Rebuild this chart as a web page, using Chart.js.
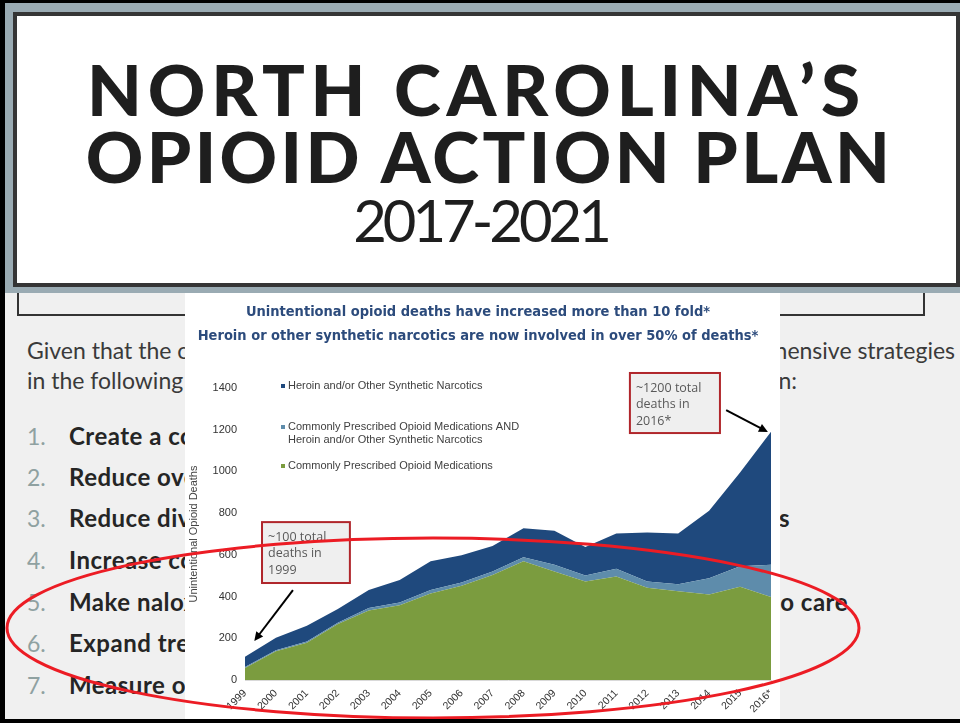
<!DOCTYPE html>
<html>
<head>
<meta charset="utf-8">
<script src="https://cdn.jsdelivr.net/npm/chart.js@4.4.1/dist/chart.umd.min.js"></script>
<style>
html, body { margin: 0; padding: 0; }
body { width: 960px; height: 723px; position: relative; overflow: hidden; background: #f0f0f0; font-family: Lato, "Open Sans", sans-serif; }
#frame { position: absolute; left: 0; top: 0; width: 960px; height: 723px; box-sizing: border-box; border-left: 5px solid #000; border-top: 3px solid #000; border-bottom: 4px solid #000; z-index: 9; pointer-events: none; }
#band { position: absolute; left: 5px; top: 3px; width: 955px; height: 290px; background: #9aabb3; z-index: 2; }
#head { position: absolute; left: 13px; top: 12px; width: 947px; height: 275px; box-sizing: border-box; border: 4px solid #353535; background: #fff; z-index: 3; }
#head div { position: absolute; width: 100%; text-align: center; color: #1e1e1e; white-space: nowrap; }
.big { font-weight: 900; font-size: 71px; line-height: 71px; }
#yrs { font-size: 58px; line-height: 58px; font-weight: 400; letter-spacing: -4px; }
#box2 { position: absolute; left: 17px; top: 280px; width: 908px; height: 36px; box-sizing: border-box; border: 2px solid #333; border-top: none; z-index: 1; }
.txt { position: absolute; font-size: 23px; line-height: 24px; color: #3a3a3a; white-space: nowrap; z-index: 1; }
.num { position: absolute; left: 27px; font-size: 23px; line-height: 24px; color: #8fa1a1; z-index: 1; }
.item { position: absolute; left: 69px; font-size: 24px; line-height: 24px; font-weight: 700; color: #252525; white-space: nowrap; z-index: 1; letter-spacing: 0.5px; }
.tail { text-align: right; }
#chartBox { position: absolute; left: 185px; top: 293px; width: 595px; height: 426px; background: #fff; z-index: 5; }
#ring { position: absolute; left: 0; top: 0; z-index: 8; pointer-events: none; }
</style>
</head>
<body>
<div id="frame"></div>
<div id="band"></div>
<div id="head">
  <div class="big" style="left:-10px; top:37px; letter-spacing:5.8px">NORTH CAROLINA’S</div>
  <div class="big" style="left:3px; top:104px; letter-spacing:3.4px">OPIOID ACTION PLAN</div>
  <div id="yrs" style="left:-6px; top:175px">2017-2021</div>
</div>
<div id="box2"></div>

<div class="txt" style="left:27px; top:338px">Given that the crisis is complex and evolving,</div>
<div class="txt" style="right:5px; top:338px">we need comprehensive strategies</div>
<div class="txt" style="left:27px; top:368px">in the following focus areas to</div>
<div class="txt" style="right:163px; top:368px">take action:</div>

<div class="num" style="top:424px">1.</div><div class="item" style="top:424px">Create a coordinated infrastructure</div>
<div class="num" style="top:465px">2.</div><div class="item" style="top:465px">Reduce oversupply of prescription opioids</div>
<div class="num" style="top:506px">3.</div><div class="item" style="top:506px">Reduce diversion of prescription drugs and</div>
<div class="tail item" style="left:auto; right:170px; top:506px">flow of illicit drugs</div>
<div class="num" style="top:548px">4.</div><div class="item" style="top:548px">Increase community awareness and prevention</div>
<div class="num" style="top:590px">5.</div><div class="item" style="top:590px">Make naloxone widely available and link</div>
<div class="tail item" style="left:auto; right:112px; top:590px">overdose survivors to care</div>
<div class="num" style="top:631px">6.</div><div class="item" style="top:631px">Expand treatment and recovery oriented systems of care</div>
<div class="num" style="top:673px">7.</div><div class="item" style="top:673px">Measure our impact and revise strategies</div>

<div id="chartBox"><canvas id="grafico" width="595" height="426"></canvas></div>

<svg id="ring" width="960" height="723">
  <ellipse cx="433" cy="628" rx="426" ry="90" fill="none" stroke="#ec1c24" stroke-width="3"/>
</svg>

<script>
// Datos del gráfico
const years = ['1999', '2000', '2001', '2002', '2003', '2004', '2005', '2006', '2007', '2008', '2009', '2010', '2011', '2012', '2013', '2014', '2015', '2016*'];
const prescribedOnly = [57, 138, 179, 268, 333, 358, 415, 452, 504, 569, 520, 472, 496, 442, 426, 410, 447, 398];
const prescribedAndHeroin = [5, 5, 6, 7, 12, 13, 16, 16, 16, 20, 33, 29, 37, 30, 33, 78, 98, 155];
const heroinOnly = [50, 60, 75, 66, 86, 109, 138, 130, 122, 139, 162, 137, 169, 235, 243, 324, 450, 637];
const seriesNames = [
    'Commonly Prescribed Opioid Medications',
    'Commonly Prescribed Opioid Medications AND\nHeroin and/or Other Synthetic Narcotics',
    'Heroin and/or Other Synthetic Narcotics'
];
const titleLines = [
    'Unintentional opioid deaths have increased more than 10 fold*',
    'Heroin or other synthetic narcotics are now involved in over 50% of deaths*'
];
const yTicks = [0, 200, 400, 600, 800, 1000, 1200, 1400];
const noteOne = ['~100 total', 'deaths in', '1999'];
const noteTwo = ['~1200 total', 'deaths in', '2016*'];

const colores = ['#7b9c3f', '#5e8cab', '#1f497d'];

// Leyenda dibujada dentro del área, arriba a la izquierda
const leyenda = {
    id: 'leyenda',
    afterDraw(chart) {
        const { ctx, chartArea } = chart;
        const filas = [-2, 39, 78];
        ctx.save();
        ctx.font = '11px "Liberation Sans", Arial, sans-serif';
        ctx.textBaseline = 'middle';
        const orden = [2, 1, 0];
        orden.forEach((i, k) => {
            const y = chartArea.top + filas[k];
            ctx.fillStyle = colores[i];
            ctx.fillRect(chartArea.left + 36, y - 2, 4, 4);
            ctx.fillStyle = '#404040';
            chart.data.datasets[i].label.split('\n').forEach((linea, j) => {
                ctx.fillText(linea, chartArea.left + 43, y + j * 13);
            });
        });
        ctx.restore();
    }
};

// Cuadros de texto con flechas
const notas = {
    id: 'notas',
    afterDraw(chart) {
        const { ctx } = chart;
        const xs = chart.scales.x, ys = chart.scales.y;
        const px = v => xs.getPixelForValue(v);
        const py = v => ys.getPixelForValue(v);
        const cajas = [
            { texto: noteOne, caja: [0.55, 757, 3.39, 465], desde: [1.55, 431], hasta: [0.3, 187] },
            { texto: noteTwo, caja: [12.44, 1472, 15.35, 1184], desde: [15.55, 1294], hasta: [16.9, 1189] }
        ];
        ctx.save();
        cajas.forEach(c => {
            const x0 = px(c.caja[0]), y0 = py(c.caja[1]), x1 = px(c.caja[2]), y1 = py(c.caja[3]);
            ctx.fillStyle = '#efefef';
            ctx.fillRect(x0, y0, x1 - x0, y1 - y0);
            ctx.strokeStyle = '#b0262b';
            ctx.lineWidth = 2;
            ctx.strokeRect(x0, y0, x1 - x0, y1 - y0);
            ctx.fillStyle = '#595959';
            ctx.font = '12.5px "Open Sans", sans-serif';
            ctx.textBaseline = 'middle';
            c.texto.forEach((t, j) => ctx.fillText(t, x0 + 6, y0 + 15 + j * 16.5));

            // flecha
            const ax = px(c.desde[0]), ay = py(c.desde[1]);
            const bx = px(c.hasta[0]), by = py(c.hasta[1]);
            const ang = Math.atan2(by - ay, bx - ax);
            ctx.strokeStyle = '#000';
            ctx.lineWidth = 2;
            ctx.beginPath();
            ctx.moveTo(ax, ay);
            ctx.lineTo(bx - 5 * Math.cos(ang), by - 5 * Math.sin(ang));
            ctx.stroke();
            ctx.fillStyle = '#000';
            ctx.beginPath();
            ctx.moveTo(bx, by);
            ctx.lineTo(bx - 10 * Math.cos(ang - 0.45), by - 10 * Math.sin(ang - 0.45));
            ctx.lineTo(bx - 10 * Math.cos(ang + 0.45), by - 10 * Math.sin(ang + 0.45));
            ctx.closePath();
            ctx.fill();
        });
        ctx.restore();
    }
};

document.addEventListener('DOMContentLoaded', () => {
    const ctx = document.getElementById('grafico').getContext('2d');
    new Chart(ctx, {
        type: 'line',
        data: {
            labels: years,
            datasets: [
                { label: seriesNames[0], data: prescribedOnly, backgroundColor: colores[0], fill: 'origin' },
                { label: seriesNames[1], data: prescribedAndHeroin, backgroundColor: colores[1], fill: '-1' },
                { label: seriesNames[2], data: heroinOnly, backgroundColor: colores[2], fill: '-1' }
            ]
        },
        options: {
            responsive: false,
            animation: false,
            elements: {
                point: { radius: 0 },
                line: { borderWidth: 0, borderColor: 'rgba(0,0,0,0)', tension: 0 }
            },
            layout: { padding: { right: 9, left: 0 } },
            plugins: {
                legend: { display: false },
                tooltip: { enabled: false },
                title: {
                    display: true,
                    text: titleLines,
                    color: '#2c4b7c',
                    font: { family: '"Liberation Sans Narrow", "DejaVu Sans Condensed", sans-serif', size: 14.5, weight: 'bold', lineHeight: 1.6 },
                    padding: { top: 8, bottom: 40.6 }
                }
            },
            scales: {
                x: {
                    offset: false,
                    grid: { display: false, drawTicks: false },
                    border: { color: '#d9d9d9' },
                    ticks: { autoSkip: false, minRotation: 45, maxRotation: 45, color: '#333', padding: 7, font: { family: '"Liberation Sans", Arial', size: 10.5 } },
                    afterFit: s => { s.height = 39; s.paddingLeft = 0; s.paddingRight = 0; }
                },
                y: {
                    stacked: true,
                    min: 0,
                    max: 1400,
                    afterBuildTicks: s => { s.ticks = yTicks.map(v => ({ value: v })); },
                    grid: { display: false, drawTicks: false },
                    border: { display: false },
                    ticks: { color: '#333', padding: 8, font: { family: '"Liberation Sans", Arial', size: 11 }, callback: v => String(v) },
                    title: { display: true, text: 'Unintentional Opioid Deaths', color: '#444', font: { family: '"Liberation Sans", Arial', size: 11 }, padding: 2 },
                    afterFit: s => { s.width = 60; }
                }
            }
        },
        plugins: [leyenda, notas]
    });
});
</script>
</body>
</html>
